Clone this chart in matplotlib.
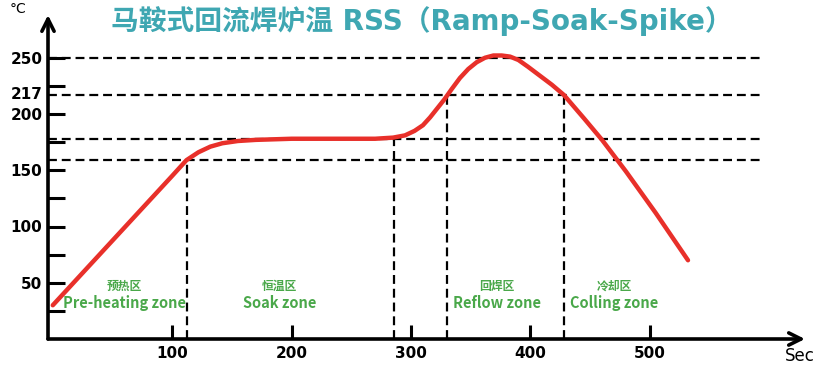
import numpy as np
import matplotlib.pyplot as plt

plt.rcParams['font.family'] = ['Noto Sans CJK SC', 'DejaVu Sans']

# reflow profile (sec, degC)
t_sec = [0, 20, 40, 60, 80, 100, 112, 122, 132, 142, 155, 170, 200, 240, 270, 285,
         295, 303, 310, 316, 322, 328, 334, 341, 348, 355, 362, 369, 376, 383, 390,
         398, 408, 418, 428, 445, 460, 480, 505, 532]
temp_c = [30, 53, 76, 99, 122, 145, 159, 166, 171, 174, 176, 177, 178, 178, 178, 179,
          181, 185, 190, 197, 205, 213, 222, 232, 240, 246, 250, 252, 252, 251, 248,
          242, 234, 226, 217, 196, 177, 149, 112, 70]

h_levels = [250, 217, 178, 159]
v_lines = [(112, 159), (286, 178), (330, 217), (428, 217)]
y_ticks = [25, 50, 75, 100, 125, 150, 175, 200, 225, 250]
y_labels = ['', '50', '', '100', '', '150', '', '200', '', '250']
x_ticks = [100, 200, 300, 400, 500]

zones_cn = ['预热区', '恒温区', '回焊区', '冷却区']
zones_en = ['Pre-heating zone', 'Soak zone', 'Reflow zone', 'Colling zone']
zone_x = [60, 190, 372, 470]

fig = plt.figure(figsize=(8.29, 3.72), dpi=100)
ax = fig.add_axes([48/829, 33/372, (805-48)/829, (339-15)/372])
ax.set_xlim(-4, 630)
ax.set_ylim(0, 288)

for s in ax.spines.values():
    s.set_visible(False)

# axes with arrow heads
ax.annotate('', xy=(1.0, 0), xytext=(0, 0), xycoords='axes fraction',
            arrowprops=dict(arrowstyle='->', lw=2.6, color='black', mutation_scale=22,
                            shrinkA=0, shrinkB=0))
ax.annotate('', xy=(0, 1.0), xytext=(0, 0), xycoords='axes fraction',
            arrowprops=dict(arrowstyle='->', lw=2.6, color='black', mutation_scale=22,
                            shrinkA=0, shrinkB=0))

dash = (0, (4, 2.2))
for lv in h_levels:
    ax.plot([-4, 592], [lv, lv], color='black', lw=1.6, linestyle=dash)
for xv, top in v_lines:
    ax.plot([xv, xv], [0, top], color='black', lw=1.6, linestyle=dash)

ax.plot(t_sec, temp_c, color='#e8302a', lw=3.2, solid_capstyle='round',
        solid_joinstyle='round', zorder=5)

ax.set_yticks(y_ticks)
ax.set_yticklabels(y_labels, fontweight='bold', fontsize=11, family='DejaVu Sans')
ax.set_xticks(x_ticks)
ax.set_xticklabels([str(v) for v in x_ticks], fontweight='bold', fontsize=11,
                   family='DejaVu Sans')
ax.tick_params(axis='y', direction='in', length=12, width=2.2, pad=4)
ax.tick_params(axis='x', direction='in', length=10, width=2.2, pad=5)
ax.text(-0.007, 217, '217', transform=ax.get_yaxis_transform(), ha='right', va='center',
        fontweight='bold', fontsize=11, family='DejaVu Sans')

for cn, en, xv in zip(zones_cn, zones_en, zone_x):
    ax.text(xv, 47, cn, ha='center', va='center', color='#4aa84a', fontsize=8.5,
            fontweight='bold')
    ax.text(xv, 32, en, ha='center', va='center', color='#4aa84a', fontsize=10.5,
            fontweight='bold')

fig.text(10/829, 1 - 9/372, '°C', ha='left', va='center', fontsize=10,
         family='DejaVu Sans')
fig.text(785/829, 1 - 356/372, 'Sec', ha='left', va='center', fontsize=12,
         family='DejaVu Sans')
fig.text(422/829, 1 - 21/372, '马鞍式回流焊炉温 RSS（Ramp-Soak-Spike）', ha='center',
         va='center', fontsize=20, fontweight='bold', color='#3fa7b2',
         family=['DejaVu Sans', 'Noto Sans CJK SC'])

fig.savefig('out.png', dpi=100)
